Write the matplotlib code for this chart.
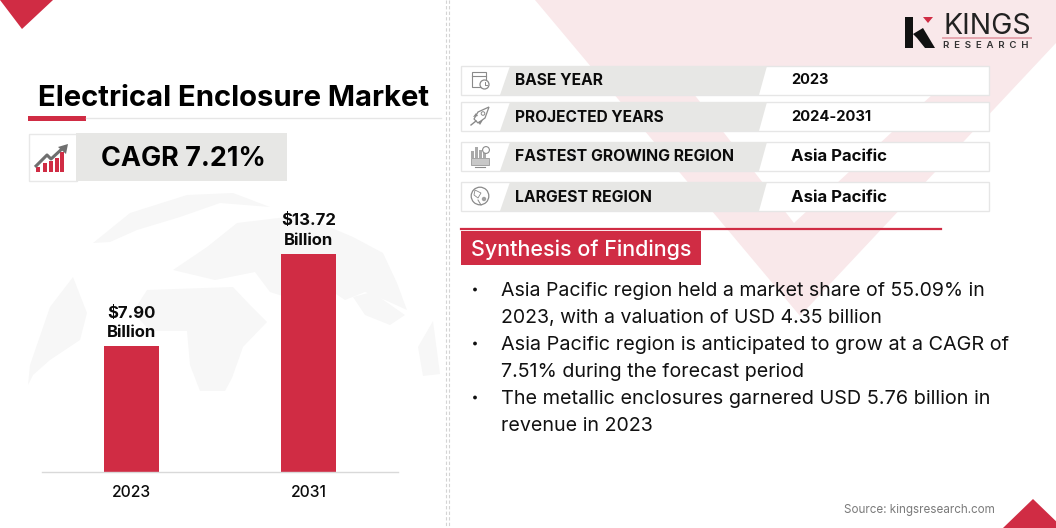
import matplotlib
matplotlib.use("Agg")
import matplotlib.pyplot as plt
from matplotlib.patches import Polygon, Rectangle, Circle

# ---- data ----
years = ["2023", "2031"]
market_values = [7.90, 13.72]
value_unit = "Billion"
title = "Electrical Enclosure Market"
cagr_text = "CAGR 7.21%"
row_labels = ["BASE YEAR", "PROJECTED YEARS", "FASTEST GROWING REGION", "LARGEST REGION"]
row_values = ["2023", "2024-2031", "Asia Pacific", "Asia Pacific"]
findings_title = "Synthesis of Findings"
finding_lines = [
    "Asia Pacific region held a market share of 55.09% in",
    "2023, with a valuation of USD 4.35 billion",
    "Asia Pacific region is anticipated to grow at a CAGR of",
    "7.51% during the forecast period",
    "The metallic enclosures garnered USD 5.76 billion in",
    "revenue in 2023",
]
bullet_lines = [0, 2, 4]
source_text = "Source: kingsresearch.com"

RED = "#D02C44"
PINK = "#F9E8EA"
GREY = "#E7E7E5"
GLOBE = "#F7F7F7"
FONT = "Inter"
W, H = 1056, 528

fig = plt.figure(figsize=(W / 100, H / 100), dpi=100, facecolor="white")
bg = fig.add_axes([0, 0, 1, 1], zorder=0)
bg.set_xlim(0, W); bg.set_ylim(H, 0); bg.axis("off")
renderer = fig.canvas.get_renderer()


def fit(ax, x, y, s, width, size=14, weight="normal", color="#0B0B0B", ha="left", **kw):
    t = ax.text(x, y, s, fontsize=size, fontweight=weight, color=color, ha=ha,
                va="center", family=FONT, **kw)
    t.set_fontsize(size * width / t.get_window_extent(renderer).width)
    return t


def poly(ax, pts, **kw):
    kw.setdefault("lw", 0)
    ax.add_patch(Polygon(pts, closed=True, **kw))


# pink chevron background
poly(bg, [(535, 0), (1056, 0), (1056, 43), (800, 316)], fc=PINK)
poly(bg, [(683, 80), (948, 80), (794, 223)], fc="white")

# corner triangles
poly(bg, [(0, 0), (53, 0), (22, 29)], fc=RED)
poly(bg, [(1003, 528), (1033, 499), (1063, 528)], fc=RED)

# dashed divider
for dx in (446, 448.5):
    bg.plot([dx, dx], [0, H], color="#D4D4D4", lw=0.8, ls=(0, (3, 2)))

# faint world map
world = [
    [(93, 243), (130, 213), (187, 195), (233, 193), (270, 207), (220, 203), (180, 217), (137, 230), (110, 242)],
    [(28, 385), (30, 365), (50, 307), (73, 277), (87, 313), (80, 340), (50, 360), (33, 375)],
    [(173, 270), (207, 247), (237, 223), (287, 217), (320, 223), (353, 237), (383, 253), (397, 283), (407, 310),
     (385, 300), (365, 292), (345, 300), (330, 290), (312, 282), (295, 300), (270, 292), (255, 272), (215, 280)],
    [(147, 290), (233, 287), (250, 305), (267, 322), (243, 347), (232, 378), (225, 391), (200, 391), (190, 365),
     (187, 331), (150, 331), (133, 312)],
    [(353, 297), (372, 292), (405, 315), (390, 325), (365, 315)],
    [(433, 321), (440, 374), (423, 376), (418, 347)],
]
for shape in world:
    poly(bg, shape, fc=GLOBE)

# title
fit(bg, 38, 98.5, title, 392, size=20, weight="bold", color="black")
bg.plot([86, 441], [118, 118], color="#E6E6E6", lw=1)
bg.add_patch(Rectangle((28, 116), 58, 5, fc=RED, lw=0))

# CAGR box
bg.add_patch(Rectangle((28.5, 133.5), 48, 47.5, fc="white", ec="#E8E8E8", lw=1))
bg.add_patch(Rectangle((76, 133), 211, 48, fc=GREY, lw=0))
for bx, top in zip((36, 43, 49, 55, 60), (167, 163, 161, 158, 152)):
    bg.add_patch(Rectangle((bx, top), 4.3, 172 - top, fc=RED, lw=0))
bg.plot([35, 47, 51, 64], [167, 155, 159, 147], color="#6F6F6F", lw=2.2, solid_capstyle="butt")
poly(bg, [(58, 147), (68, 144), (66, 154)], fc="#6F6F6F")
fit(bg, 101, 158.5, cagr_text, 165, size=20, weight="bold", color="black")

# info rows
row_tops = [65, 101, 141, 181]
row_text_y = [80.5, 117, 156.5, 197]
label_widths = [88, 149, 219, 137]
value_widths = [38, 81, 97, 97]
for top, ty, lab, val, lw_, vw in zip(row_tops, row_text_y, row_labels, row_values, label_widths, value_widths):
    bg.add_patch(Rectangle((460.5, top + .5), 528, 29.5, fc="white", ec="#E6E6E6", lw=1))
    poly(bg, [(510, top + 1), (767, top + 1), (759, top + 30), (500, top + 30)], fc=GREY)
    fit(bg, 515, ty, lab, lw_, size=11, weight="bold")
    fit(bg, 791, ty, val, vw, size=11, weight="bold")

# row icons
ic = "#8A8A8A"
bg.add_patch(Rectangle((471.5, 72), 14, 15, fc="none", ec=ic, lw=.8))
bg.plot([471.5, 485.5], [76, 76], color=ic, lw=.8)
bg.add_patch(Circle((484.5, 84.5), 4.5, fc="white", ec=ic, lw=.9))
bg.plot([484.5, 484.5, 487], [82, 84.5, 84.5], color=ic, lw=.7)
poly(bg, [(489, 107), (485, 118), (478, 123), (474, 119), (478, 112)], fc="white", ec=ic, lw=.9)
poly(bg, [(473, 117), (476, 113), (478, 116)], fc=ic)
poly(bg, [(480, 125), (483, 120), (478, 122)], fc=ic)
bg.plot([471, 476], [125, 121], color=ic, lw=1)
bg.add_patch(Circle((483, 113.5), 1.8, fc="white", ec=ic, lw=.7))
for bx, t, bw in [(471, 151, 3), (475, 147, 3), (479, 150, 3), (483, 153, 3)]:
    bg.add_patch(Rectangle((bx, t), bw, 158 - t, fc="#A9A9A9", lw=0))
bg.add_patch(Circle((486, 150), 3.4, fc="white", ec=ic, lw=.8))
bg.add_patch(Rectangle((471, 158), 18, 7, fc="#C8C8C8", ec=ic, lw=.5))
bg.plot([475, 485], [167, 167], color=ic, lw=.8)
bg.add_patch(Circle((480, 196), 8.8, fc="white", ec=ic, lw=.9))
poly(bg, [(475, 190), (481, 193), (478, 198), (474, 195)], fc="none", ec=ic, lw=.6)
bg.add_patch(Circle((484, 199), 2.2, fc="#A0A0A0", lw=0))
bg.plot([478, 481], [200, 205], color=ic, lw=.7)

# findings heading
bg.plot([461, 941], [229, 229], color=RED, lw=1.6)
bg.add_patch(Rectangle((461, 231), 240, 34, fc=RED, lw=0))
fit(bg, 471, 250, findings_title, 221, size=15, weight="medium", color="white")

# findings text
line_y = [291, 318, 345, 372, 399, 426]
line_widths = [485, 381, 509, 303, 491, 152]
for y, line, lw_ in zip(line_y, finding_lines, line_widths):
    fit(bg, 501, y, line, lw_, size=14, color="#111111")
for idx in bullet_lines:
    bg.add_patch(Circle((475, line_y[idx] - 1.5), 1.9, fc="#111111", lw=0))

# source
fit(bg, 844, 509.5, source_text, 152, size=8, color="#7A7A7A")

# logo
bg.add_patch(Rectangle((905, 17), 8, 31, fc="#111111", lw=0))
poly(bg, [(913, 34), (923, 28), (935, 48), (925, 48), (917, 38)], fc="#111111")
poly(bg, [(923, 17), (933, 17), (928, 23)], fc=RED)
fit(bg, 943, 26, "KINGS", 88, size=16, color="#222222")
bg.plot([943, 1031], [38, 38], color="#E6A7B0", lw=1.4)
fit(bg, 943, 45, "R  E  S  E  A  R  C  H", 87, size=7, weight="semibold", color="#333333")

# bar chart
base_y, left, right, top_y = 472, 42, 398, 196
ax = fig.add_axes([left / W, (H - base_y) / H, (right - left) / W, (base_y - top_y) / H], zorder=2)
ax.patch.set_alpha(0)
positions = range(len(years))
ax.bar(positions, market_values, width=0.31, color=RED)
ax.set_xlim(-0.506, 1.506)
ax.set_ylim(0, (base_y - top_y) / 15.89)
ax.set_yticks([])
ax.set_xticks(list(positions), years, family=FONT, fontsize=11.3, fontweight="medium", color="#0B0B0B")
ax.tick_params(axis="x", length=0, pad=9.5)
for side in ("top", "left", "right"):
    ax.spines[side].set_visible(False)
ax.spines["bottom"].set_color("#D9D9D9")
ax.spines["bottom"].set_linewidth(1)
for p, v in zip(positions, market_values):
    ax.annotate(f"${v:.2f}\n{value_unit}", xy=(p, v), xytext=(0, 4.5), textcoords="offset points",
                ha="center", va="bottom", family=FONT, fontsize=12, fontweight="bold",
                color="#0B0B0B", linespacing=1.38)

fig.savefig("out.png", dpi=100)
